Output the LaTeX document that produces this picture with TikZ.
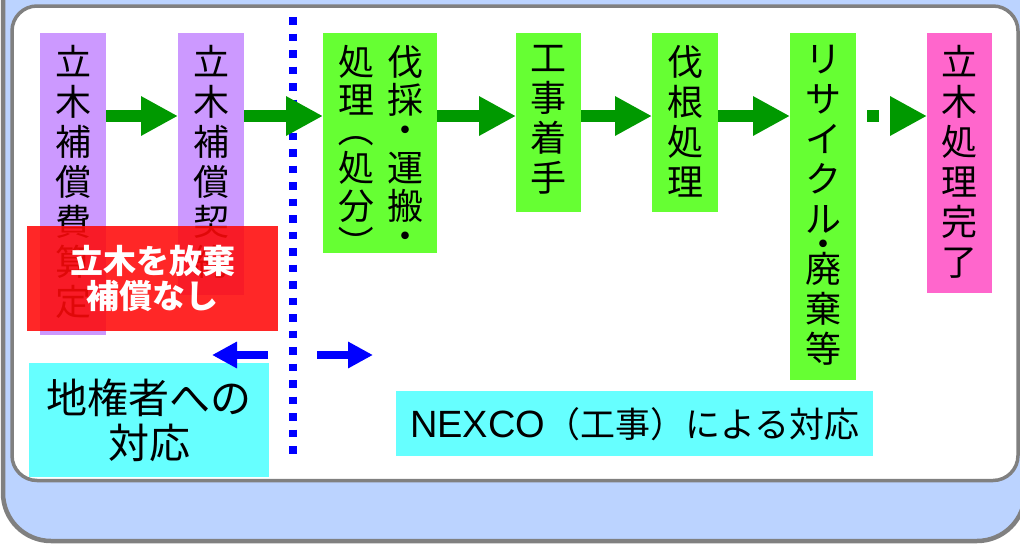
\documentclass[tikz,border=0pt]{standalone}
\usepackage{fontspec}
\setmainfont{Noto Sans CJK JP}
\newfontfamily\lat{Liberation Sans}
\usetikzlibrary{arrows.meta}
\definecolor{bordergray}{RGB}{128,128,128}
\definecolor{lightbg}{RGB}{187,211,255}
\definecolor{purp}{RGB}{204,153,255}
\definecolor{lgreen}{RGB}{102,255,51}
\definecolor{pinkc}{RGB}{255,102,204}
\definecolor{cyanc}{RGB}{102,255,255}
\definecolor{agreen}{RGB}{0,153,0}
\definecolor{bblue}{RGB}{0,0,255}
\definecolor{redc}{RGB}{255,10,10}
\newcommand{\vparen}[1]{\rotatebox[origin=c]{-90}{#1}}
\begin{document}
\begin{tikzpicture}[x=1pt,y=-1pt,
  box/.style={rectangle, inner sep=0pt, anchor=north west},
  vtext/.style={inner sep=0pt, align=center, anchor=north, font=\fontsize{36}{40}\selectfont},
  vtextb/.style={inner sep=0pt, align=center, anchor=north, font=\fontsize{36}{38}\selectfont},
  garrow/.style={draw=agreen, line width=12pt, -{Triangle[length=37pt,width=37pt]}},
  barrow/.style={draw=bblue, line width=8pt, -{Triangle[length=25pt,width=25pt]}},
]
\useasboundingbox (0,0) rectangle (1020,544);
\clip (0,0) rectangle (1020,544);
% frames
\draw[line width=4.5pt, draw=bordergray, fill=lightbg, rounded corners=48pt] (3,-80) rectangle (1025,541);
\draw[line width=3.5pt, draw=bordergray, fill=white, rounded corners=25pt] (12,6) rectangle (1018,480.5);
% boxes
\node[box, fill=purp, minimum width=66pt, minimum height=302pt] (b1) at (40,33) {};
\node[box, fill=purp, minimum width=66pt, minimum height=262pt] (b2) at (178,33) {};
\node[box, fill=lgreen, minimum width=114pt, minimum height=220pt] (b3) at (323,33) {};
\node[box, fill=lgreen, minimum width=65pt, minimum height=179pt] (b4) at (516,33) {};
\node[box, fill=lgreen, minimum width=66pt, minimum height=179pt] (b5) at (652,33) {};
\node[box, fill=lgreen, minimum width=66pt, minimum height=347pt] (b6) at (790,33) {};
\node[box, fill=pinkc, minimum width=65pt, minimum height=260pt] (b7) at (927,33) {};
% vertical texts
\node[vtext] (t1) at (73,45) {立\\木\\補\\償\\費\\算\\定};
\node[vtext] (t2) at (211,45) {立\\木\\補\\償\\契\\約};
\node[vtextb] (t3a) at (405,45) {伐\\採\\[-8pt]・\\運\\搬\\[-8pt]・};
\node[vtextb] (t3b) at (356,45) {処\\理\\[-8pt]\vparen{（}\\処\\分\\\vparen{）}};
\node[vtext] (t4) at (548.5,45) {工\\事\\着\\手};
\node[vtext] (t5) at (685,45) {伐\\根\\処\\理};
\node[vtext] (t6) at (823,45) {リ\\サ\\イ\\ク\\ル\\[-15pt]・\\[-15pt]廃\\棄\\等};
\node[vtext] (t7) at (959.5,45) {立\\木\\処\\理\\完\\了};
% dotted divider
\coordinate (d1) at (293,17);
\coordinate (d2) at (293,456);
\draw[draw=bblue, line width=7.5pt, dash pattern=on 7.5pt off 9pt] (d1) -- (d2);
% green arrows
\coordinate (ay) at (0,116);
\draw[garrow] (b1.east |- ay) -- (b2.west |- ay);
\draw[garrow] (b2.east |- ay) -- (b3.west |- ay);
\draw[garrow] (b3.east |- ay) -- (b4.west |- ay);
\draw[garrow] (b4.east |- ay) -- (b5.west |- ay);
\draw[garrow] (b5.east |- ay) -- (b6.west |- ay);
\draw[garrow, dash pattern=on 12pt off 20pt, dash phase=21pt] (b6.east |- ay) -- (b7.west |- ay);
% red overlay
\node[box, fill=redc, fill opacity=0.88, minimum width=251pt, minimum height=105pt] (rd) at (27,226) {};
\node[inner sep=0pt, align=center, text=white, font=\bfseries\fontsize{33}{35}\selectfont] (rdt) at (rd.center) {立木を放棄\\補償なし};
% cyan boxes
\node[box, fill=cyanc, minimum width=240pt, minimum height=114pt, align=center, font=\fontsize{41}{45}\selectfont] (c1) at (29,363) {地権者への\\対応};
\node[box, fill=cyanc, minimum width=477pt, minimum height=65pt, font=\fontsize{35}{40}\selectfont] (c2) at (396,391) {{\lat\fontsize{38}{40}\selectfont NEXCO}（工事）による対応};
% blue arrows
\coordinate (la1) at (268,355);
\coordinate (la2) at (212,355);
\coordinate (ra1) at (317,355);
\coordinate (ra2) at (373,355);
\draw[barrow] (la1) -- (la2);
\draw[barrow] (ra1) -- (ra2);
\end{tikzpicture}
\end{document}
